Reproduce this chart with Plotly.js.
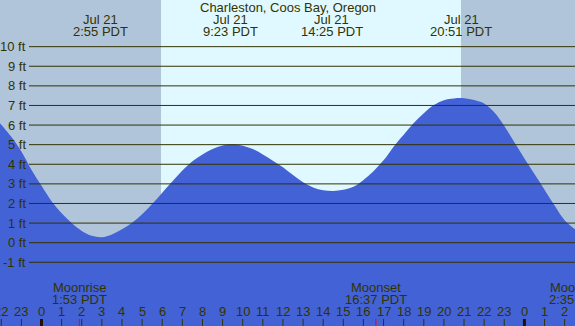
<!DOCTYPE html>
<html><head><meta charset="utf-8">
<script src="https://cdn.plot.ly/plotly-3.0.1.min.js"></script>
<style>html,body{margin:0;padding:0;background:#fff;}#chart{width:575px;height:326px;}</style>
</head><body><div id="chart"></div>
<script>
// ---- data ----
const stationTitle = "Charleston, Coos Bay, Oregon";
// tide curve: hours relative to Jul 21 00:00 PDT, height in ft
const tideHours = [-2.1,-2,-1.5,-1,-0.5,0,0.5,1,1.5,2,2.5,3,3.5,4,4.5,5,5.5,6,6.5,7,7.5,8,8.5,9,9.5,10,10.5,11,11.5,12,12.5,13,13.5,14,14.5,15,15.5,16,16.5,17,17.5,18,18.5,19,19.5,20,20.5,21,21.5,22,22.5,23,23.5,24,24.5,25,25.5,26,26.55];
const tideFeet  = [6.14,6.02,5.4,4.65,3.72,2.9,2.12,1.5,1.0,0.6,0.35,0.28,0.42,0.68,1.02,1.45,1.97,2.55,3.12,3.68,4.15,4.5,4.78,4.96,5.02,4.95,4.78,4.5,4.18,3.85,3.45,3.08,2.82,2.68,2.64,2.7,2.85,3.2,3.65,4.2,4.9,5.5,6.1,6.6,7.02,7.27,7.36,7.37,7.28,7.1,6.65,5.95,5.12,4.3,3.5,2.7,1.9,1.15,0.66];
// tide extremes
const extremeHours = [2.917, 9.383, 14.417, 20.85];
const extremeDates = ["Jul 21","Jul 21","Jul 21","Jul 21"];
const extremeTimes = ["2:55 PDT","9:23 PDT","14:25 PDT","20:51 PDT"];
// sun
const sunrise = 5.94, sunset = 20.85;
// moon events
const moonHours  = [1.883, 16.617, 26.583];
const moonNames  = ["Moonrise","Moonset","Moonrise"];
const moonTimes  = ["1:53 PDT","16:37 PDT","2:35 PDT"];
// axis ticks
const hourTicks  = [-2,-1,0,1,2,3,4,5,6,7,8,9,10,11,12,13,14,15,16,17,18,19,20,21,22,23,24,25,26];
const hourLabels = hourTicks.map(h => String(((h % 24) + 24) % 24));
const feetTicks  = [-1,0,1,2,3,4,5,6,7,8,9,10];
const feetLabels = feetTicks.map(f => f + " ft");

// ---- styling ----
const W = 575, H = 326;
const xRange = [-2.063, 26.515];
const yRange = [-4.25, 12.38];
const FONT = "Liberation Sans, Arial, sans-serif";
const TXT = "#333300";
const DAY = "#E0F8FF", NIGHT = "#B0C4DA", WATER = "#4262D6";
const py = p => 1 - p / H;           // pixel y -> paper
const px = p => p / W;               // pixel x -> paper
const xFrac = t => (t - xRange[0]) / (xRange[1] - xRange[0]);

const shapes = [];
const annotations = [];
// night shading
shapes.push({type:"rect", xref:"x", yref:"paper", x0:xRange[0], x1:sunrise, y0:0, y1:1, fillcolor:NIGHT, line:{width:0}, layer:"below"});
shapes.push({type:"rect", xref:"x", yref:"paper", x0:sunset, x1:xRange[1], y0:0, y1:1, fillcolor:NIGHT, line:{width:0}, layer:"below"});
// horizontal ft lines + labels
feetTicks.forEach((f,i) => {
  shapes.push({type:"line", xref:"paper", yref:"y", x0:px(29), x1:1, y0:f, y1:f, line:{color:TXT, width:1}, layer:"above"});
  annotations.push({xref:"paper", yref:"y", x:px(27.5), y:f, text:feetLabels[i], showarrow:false, xanchor:"right", yanchor:"middle", font:{family:FONT, size:13, color:TXT}});
});
// hour ticks + labels
hourTicks.forEach((h,i) => {
  const midnight = (h % 24) === 0;
  shapes.push({type:"line", xref:"x", yref:"paper", x0:h, x1:h, y0:py(319), y1:0, line:{color: midnight ? "#221100" : TXT, width: midnight ? 3 : 1}, layer:"above"});
  annotations.push({xref:"x", yref:"paper", x:h, y:py(311.5), text:hourLabels[i], showarrow:false, xanchor:"center", yanchor:"middle", font:{family:FONT, size:13, color:TXT}});
});
// moon events
moonHours.forEach((m,i) => {
  const xp = xFrac(m);
  if (m <= xRange[1]) {
    shapes.push({type:"line", xref:"x", yref:"paper", x0:m, x1:m, y0:py(319), y1:0, line:{color:"#FF0000", width:1}, layer:"above"});
  }
  annotations.push({xref:"paper", yref:"paper", x:xp, y:py(287.5), text:moonNames[i], showarrow:false, xanchor:"center", yanchor:"middle", font:{family:FONT, size:13, color:TXT}});
  annotations.push({xref:"paper", yref:"paper", x:xp, y:py(299.5), text:moonTimes[i], showarrow:false, xanchor:"center", yanchor:"middle", font:{family:FONT, size:13, color:TXT}});
});
// tide extremes
extremeHours.forEach((t,i) => {
  annotations.push({xref:"x", yref:"paper", x:t, y:py(19.5), text:extremeDates[i], showarrow:false, xanchor:"center", yanchor:"middle", font:{family:FONT, size:13, color:TXT}});
  annotations.push({xref:"x", yref:"paper", x:t, y:py(31.5), text:extremeTimes[i], showarrow:false, xanchor:"center", yanchor:"middle", font:{family:FONT, size:13, color:TXT}});
});
// title
annotations.push({xref:"paper", yref:"paper", x:px(288), y:py(7.5), text:stationTitle, showarrow:false, xanchor:"center", yanchor:"middle", font:{family:FONT, size:13, color:TXT}});

const traces = [
  {x:[tideHours[0], tideHours[tideHours.length-1]], y:[yRange[0]-2, yRange[0]-2], mode:"lines", line:{width:0}, hoverinfo:"skip", showlegend:false},
  {x:tideHours, y:tideFeet, mode:"lines", line:{width:0, shape:"spline", color:WATER}, fill:"tonexty", fillcolor:WATER, hoverinfo:"skip", showlegend:false}
];

const layout = {
  width:W, height:H, margin:{l:0,r:0,t:0,b:0,pad:0},
  paper_bgcolor:DAY, plot_bgcolor:DAY, showlegend:false,
  xaxis:{range:xRange, visible:false, fixedrange:true},
  yaxis:{range:yRange, visible:false, fixedrange:true},
  shapes:shapes, annotations:annotations
};
Plotly.newPlot("chart", traces, layout, {staticPlot:true, displayModeBar:false});
</script></body></html>
